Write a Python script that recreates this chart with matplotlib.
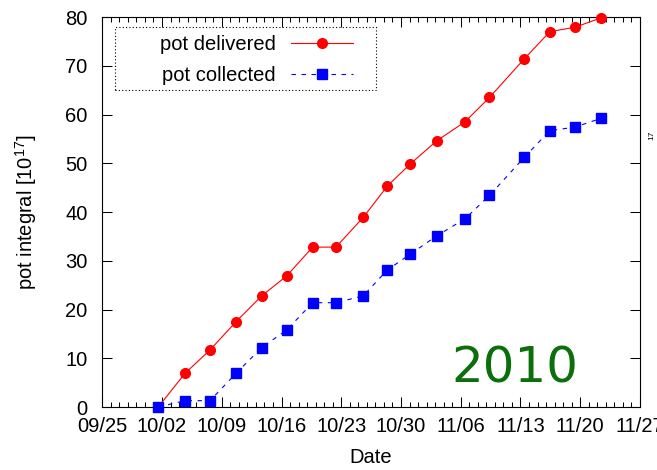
import datetime as dt

import numpy as np
import matplotlib
matplotlib.use("Agg")
import matplotlib.pyplot as plt
import matplotlib.dates as mdates
from matplotlib.patches import Rectangle

plt.rcParams["font.family"] = ["Liberation Sans", "DejaVu Sans"]
plt.rcParams["mathtext.fontset"] = "custom"
plt.rcParams["mathtext.rm"] = "Liberation Sans"
plt.rcParams["mathtext.it"] = "Liberation Sans:italic"

# ── data: days since the start of the run, integrated POT [1e17] ────────────
START = dt.datetime(2010, 9, 25)
END = dt.datetime(2010, 11, 27)
days_since_start = [6.56, 9.69, 12.62, 15.67, 18.68, 21.61, 24.65, 27.38, 30.58,
                    33.39, 36.05, 39.18, 42.50, 45.37, 49.44, 52.45, 55.38, 58.41]
pot_delivered = [0.0, 6.9, 11.7, 17.5, 22.8, 26.9, 32.8, 32.8, 38.9,
                 45.3, 49.8, 54.6, 58.5, 63.5, 71.4, 77.0, 77.9, 79.8]
pot_collected = [0.0, 1.3, 1.3, 6.9, 12.2, 15.8, 21.4, 21.4, 22.8,
                 28.1, 31.3, 35.1, 38.6, 43.4, 51.2, 56.7, 57.4, 59.2]
y_ticks = [0, 10, 20, 30, 40, 50, 60, 70, 80]

dates = [START + dt.timedelta(days=d) for d in days_since_start]

FS = 14.5
fig = plt.figure(figsize=(6.57, 4.70), dpi=100)
ax = fig.add_axes([0.1557, 0.134, 0.8183, 0.8298])

ax.plot(dates, pot_delivered, color="#ff0000", lw=0.8, marker="o", ms=7,
        label="pot delivered", clip_on=False, zorder=3)
ax.plot(dates, pot_collected, color="#0000ff", lw=0.8, ls=(0, (4, 5)),
        marker="s", ms=7, label="pot collected", clip_on=False, zorder=3)

ax.set_xlim(START, END)
ax.set_ylim(0, 80)
ax.set_yticks(y_ticks)

week_ticks = [START + dt.timedelta(days=7 * k) for k in range(10)]
ax.set_xticks(week_ticks)
ax.xaxis.set_major_formatter(mdates.DateFormatter("%m/%d"))
ax.xaxis.set_minor_locator(mdates.DayLocator())

ax.tick_params(axis="both", which="both", direction="in", top=True, right=True,
               labelsize=FS, width=0.75)
ax.tick_params(axis="both", which="major", length=7.2)
ax.tick_params(axis="x", which="minor", length=3.6)
ax.tick_params(axis="y", which="major", pad=10.5)
ax.tick_params(axis="x", which="major", pad=7)
for sp in ax.spines.values():
    sp.set_linewidth(0.8)

ax.set_xlabel("Date", fontsize=FS)
ax.xaxis.set_label_coords(0.5, -0.105)
ax.set_ylabel("pot integral [10$^{17}$]", fontsize=FS)
ax.yaxis.set_label_coords(-0.118, 0.5)

# legend: markers after the text, inside a dotted box
leg = ax.legend(loc="upper left", bbox_to_anchor=(0.1073, 0.954), frameon=False,
                markerfirst=False, fontsize=FS, borderpad=0, borderaxespad=0,
                handlelength=3.1, handletextpad=0.75, labelspacing=0.6)
ax.add_patch(Rectangle((0.0236, 0.8128), 0.4854, 0.1615, transform=ax.transAxes,
                       fill=False, ec="black", lw=0.8, ls=(0, (1, 2)), zorder=4))

fig.text(0.784, 0.1857, "2010", fontsize=36, color="#0b700b",
         family="DejaVu Sans", ha="center", va="baseline")
fig.text(0.992, 0.713, "17", fontsize=6, rotation=90, ha="center", va="center")

fig.savefig("out.png", dpi=100)
